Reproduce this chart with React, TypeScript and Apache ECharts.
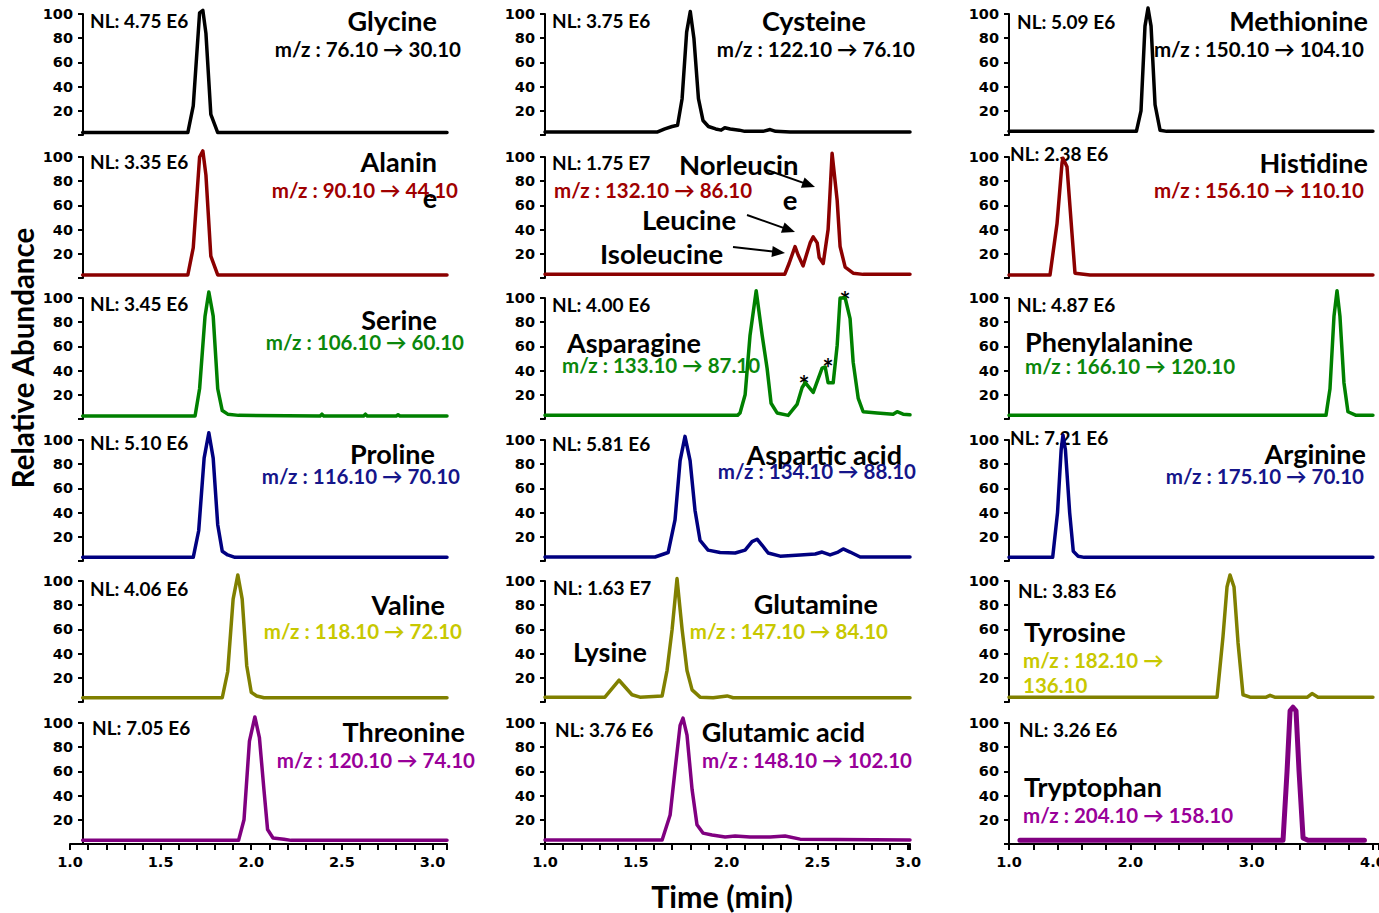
import React, { useEffect, useRef } from "react";
import * as echarts from "echarts";

type Pt = [number, number];

// ---------- Column 1 traces: [time (min), relative abundance (%)] ----------
const glycine: Pt[] = [[1.07, 2], [1.65, 2], [1.68, 24], [1.715, 101], [1.733, 103], [1.75, 84], [1.777, 17], [1.815, 2], [3.08, 2]];
const alanine: Pt[] = [[1.07, 2.5], [1.65, 2.5], [1.68, 25], [1.715, 100], [1.733, 105], [1.75, 85], [1.777, 18], [1.815, 2.5], [3.08, 2.5]];
const serine: Pt[] = [[1.07, 2.5], [1.69, 2.5], [1.715, 25], [1.745, 85], [1.766, 105], [1.79, 85], [1.815, 25], [1.84, 7], [1.87, 4], [1.93, 3], [2.38, 2.5], [2.39, 4], [2.4, 2.5], [2.62, 2.5], [2.63, 4], [2.64, 2.5], [2.8, 2.5], [2.81, 3.5], [2.82, 2.5], [3.08, 2.5]];
const proline: Pt[] = [[1.07, 3], [1.68, 3], [1.71, 25], [1.74, 85], [1.766, 106], [1.79, 85], [1.815, 30], [1.84, 8], [1.87, 5], [1.91, 3], [3.08, 3]];
const valine: Pt[] = [[1.07, 3.5], [1.84, 3.5], [1.87, 25], [1.9, 85], [1.926, 105], [1.95, 85], [1.975, 30], [2.0, 8], [2.03, 5], [2.07, 3.5], [3.08, 3.5]];
const threonine: Pt[] = [[1.07, 3], [1.93, 3], [1.96, 20], [1.99, 85], [2.02, 105], [2.045, 88], [2.07, 45], [2.09, 12], [2.12, 5], [2.18, 4], [2.22, 3], [3.08, 3]];

// ---------- Column 2 traces ----------
const cysteine: Pt[] = [[1.0, 2.5], [1.62, 2.5], [1.66, 5], [1.7, 7], [1.73, 8], [1.755, 30], [1.78, 85], [1.8, 102], [1.82, 80], [1.845, 30], [1.87, 12], [1.9, 7], [1.94, 5], [1.97, 4], [1.99, 6], [2.02, 5], [2.07, 4], [2.1, 3], [2.2, 3], [2.24, 4.5], [2.27, 3], [2.35, 2.5], [3.01, 2.5]];
const leucines: Pt[] = [[1.0, 3], [2.32, 3], [2.344, 12], [2.377, 26], [2.394, 19], [2.421, 10], [2.46, 29], [2.477, 34], [2.499, 29], [2.51, 17], [2.532, 12], [2.559, 40], [2.581, 103], [2.609, 64], [2.625, 26], [2.653, 9], [2.697, 4], [2.752, 3], [3.01, 3]];
const asparagine: Pt[] = [[1.0, 3], [2.06, 3], [2.074, 5], [2.102, 20], [2.129, 69], [2.163, 106], [2.196, 69], [2.223, 42], [2.245, 13], [2.278, 5], [2.339, 3], [2.388, 12], [2.416, 26], [2.433, 30], [2.477, 22], [2.526, 42], [2.543, 43], [2.559, 30], [2.587, 30], [2.609, 61], [2.625, 100], [2.653, 100], [2.68, 83], [2.697, 47], [2.725, 17], [2.752, 6], [2.829, 5], [2.917, 4], [2.939, 6], [2.972, 4], [3.01, 3.5]];
const asparticAcid: Pt[] = [[1.0, 3.3], [1.606, 3.3], [1.678, 7], [1.716, 34], [1.744, 83], [1.771, 103], [1.799, 83], [1.826, 42], [1.854, 17], [1.898, 9], [1.964, 7], [2.047, 6.6], [2.102, 9], [2.14, 16], [2.168, 18], [2.196, 13], [2.229, 6.6], [2.295, 4], [2.405, 5], [2.488, 5.8], [2.526, 7.4], [2.57, 5], [2.614, 7.4], [2.642, 10], [2.68, 7.4], [2.736, 3.3], [3.01, 3.3]];
const lysGlutamine: Pt[] = [[1.0, 4], [1.33, 4], [1.408, 18], [1.479, 6], [1.523, 4], [1.645, 5], [1.672, 26], [1.7, 60], [1.727, 102], [1.755, 60], [1.782, 26], [1.81, 10], [1.854, 4], [1.926, 3.5], [2.003, 5], [2.036, 3.5], [3.01, 3.5]];
const glutamicAcid: Pt[] = [[1.0, 3.3], [1.645, 3.3], [1.689, 24], [1.716, 61], [1.744, 98], [1.76, 104], [1.782, 90], [1.81, 45], [1.837, 16], [1.87, 9], [1.92, 7.4], [1.992, 5.8], [2.047, 6.6], [2.129, 5.8], [2.24, 5.8], [2.322, 6.6], [2.405, 4], [3.01, 3.3]];

// ---------- Column 3 traces ----------
const methionine: Pt[] = [[1.0, 3], [2.05, 3], [2.088, 20], [2.121, 90], [2.146, 105], [2.171, 90], [2.204, 25], [2.245, 4], [2.3, 3], [4.0, 3]];
const histidine: Pt[] = [[1.0, 2.5], [1.338, 2.5], [1.396, 45], [1.437, 95], [1.445, 99], [1.478, 92], [1.519, 37], [1.544, 4], [1.668, 2.5], [4.0, 2.5]];
const phenylalanine: Pt[] = [[1.0, 3], [3.613, 3], [3.646, 25], [3.679, 85], [3.704, 106], [3.728, 85], [3.761, 30], [3.794, 6], [3.861, 3], [4.0, 3]];
const arginine: Pt[] = [[1.0, 3], [1.36, 3], [1.4, 40], [1.43, 92], [1.445, 104], [1.465, 92], [1.5, 40], [1.53, 8], [1.57, 4], [1.62, 3], [4.0, 3]];
const tyrosine: Pt[] = [[1.0, 4], [2.715, 4], [2.764, 54], [2.797, 95], [2.822, 105], [2.855, 95], [2.888, 49], [2.929, 6], [2.987, 4], [3.12, 4], [3.152, 5.5], [3.19, 4], [3.46, 4], [3.498, 7], [3.547, 4], [4.0, 4]];
const tryptophan: Pt[] = [[1.09, 3], [3.259, 3], [3.292, 60], [3.317, 110], [3.341, 113], [3.366, 110], [3.391, 60], [3.424, 5], [3.465, 3], [3.93, 3]];

// ---------- Axis ticks ----------
const yTicks = [0, 20, 40, 60, 80, 100];
const xLabelFmt = (v: number) => v.toFixed(1);

// ---------- Colours ----------
const C = {
  black: "#000000",
  red: "#8b0000",
  green: "#008000",
  navy: "#000080",
  olive: "#808000",
  purple: "#800080",
};
const T = {
  black: "#000000",
  red: "#a00000",
  green: "#0b870b",
  navy: "#15158a",
  yellow: "#c8c800",
  purple: "#990099",
};

// ---------- Layout ----------
const COLS = [
  { left: 70, right: 447, min: 1.0, max: 3.08, yOffset: -13, interval: 0.5 },
  { left: 545, right: 910, min: 1.0, max: 3.01, yOffset: 0, interval: 0.5 },
  { left: 1009, right: 1379, min: 1.0, max: 4.05, yOffset: 0, interval: 1.0 },
];
const ROW_TOPS = [14, 157, 298, 440, 581, 723];
const ROW_H = 121;

const PANELS: { data: Pt[]; color: string; col: number; row: number; width?: number }[] = [
  { data: glycine, color: C.black, col: 0, row: 0 },
  { data: alanine, color: C.red, col: 0, row: 1 },
  { data: serine, color: C.green, col: 0, row: 2 },
  { data: proline, color: C.navy, col: 0, row: 3 },
  { data: valine, color: C.olive, col: 0, row: 4 },
  { data: threonine, color: C.purple, col: 0, row: 5 },
  { data: cysteine, color: C.black, col: 1, row: 0 },
  { data: leucines, color: C.red, col: 1, row: 1 },
  { data: asparagine, color: C.green, col: 1, row: 2 },
  { data: asparticAcid, color: C.navy, col: 1, row: 3 },
  { data: lysGlutamine, color: C.olive, col: 1, row: 4 },
  { data: glutamicAcid, color: C.purple, col: 1, row: 5 },
  { data: methionine, color: C.black, col: 2, row: 0 },
  { data: histidine, color: C.red, col: 2, row: 1 },
  { data: phenylalanine, color: C.green, col: 2, row: 2 },
  { data: arginine, color: C.navy, col: 2, row: 3 },
  { data: tyrosine, color: C.olive, col: 2, row: 4 },
  { data: tryptophan, color: C.purple, col: 2, row: 5, width: 5 },
];

// [text, x, y, size, colour, align]
type Lbl = [string, number, number, number, string, "left" | "right" | "center"];
const NL = 19, NM = 27, MZ = 20.5, BIG = 27.5;
const LABELS: Lbl[] = [
  ["NL: 4.75 E6", 90, 20, NL, T.black, "left"],
  ["Glycine", 437, 20, NM, T.black, "right"],
  ["m/z : 76.10 → 30.10", 461, 49, MZ, T.black, "right"],
  ["NL: 3.75 E6", 552, 20, NL, T.black, "left"],
  ["Cysteine", 866, 20, NM, T.black, "right"],
  ["m/z : 122.10 → 76.10", 915, 49, MZ, T.black, "right"],
  ["NL: 5.09 E6", 1017, 21, NL, T.black, "left"],
  ["Methionine", 1368, 20, NM, T.black, "right"],
  ["m/z : 150.10 → 104.10", 1364, 49, MZ, T.black, "right"],

  ["NL: 3.35 E6", 90, 161, NL, T.black, "left"],
  ["Alanin", 437, 161, NM, T.black, "right"],
  ["m/z : 90.10 → 44.10", 458, 190, MZ, T.red, "right"],
  ["e", 430, 197, NM, T.black, "center"],
  ["NL: 1.75 E7", 552, 162, NL, T.black, "left"],
  ["m/z : 132.10 → 86.10", 554, 190, MZ, T.red, "left"],
  ["Norleucin", 679, 164, BIG, T.black, "left"],
  ["e", 790, 199, BIG, T.black, "center"],
  ["Leucine", 642, 219, BIG, T.black, "left"],
  ["Isoleucine", 600, 253, BIG, T.black, "left"],
  ["NL: 2.38 E6", 1010, 153, NL, T.black, "left"],
  ["Histidine", 1368, 162, NM, T.black, "right"],
  ["m/z : 156.10 → 110.10", 1364, 190, MZ, T.red, "right"],

  ["NL: 3.45 E6", 90, 303, NL, T.black, "left"],
  ["Serine", 437, 319, NM, T.black, "right"],
  ["m/z : 106.10 → 60.10", 464, 342, MZ, T.green, "right"],
  ["NL: 4.00 E6", 552, 304, NL, T.black, "left"],
  ["Asparagine", 567, 342, NM, T.black, "left"],
  ["m/z : 133.10 → 87.10", 562, 365, MZ, T.green, "left"],
  ["*", 804, 385, 26, T.black, "center"],
  ["*", 828, 368, 26, T.black, "center"],
  ["*", 845, 301, 26, T.black, "center"],
  ["NL: 4.87 E6", 1017, 304, NL, T.black, "left"],
  ["Phenylalanine", 1025, 341, NM, T.black, "left"],
  ["m/z : 166.10 → 120.10", 1025, 366, MZ, T.green, "left"],

  ["NL: 5.10 E6", 90, 442, NL, T.black, "left"],
  ["Proline", 435, 453, NM, T.black, "right"],
  ["m/z : 116.10 → 70.10", 460, 476, MZ, T.navy, "right"],
  ["NL: 5.81 E6", 552, 443, NL, T.black, "left"],
  ["Aspartic acid", 902, 454, NM, T.black, "right"],
  ["m/z : 134.10 → 88.10", 916, 471, MZ, T.navy, "right"],
  ["NL: 7.21 E6", 1010, 437, NL, T.black, "left"],
  ["Arginine", 1366, 453, NM, T.black, "right"],
  ["m/z : 175.10 → 70.10", 1364, 476, MZ, T.navy, "right"],

  ["NL: 4.06 E6", 90, 588, NL, T.black, "left"],
  ["Valine", 445, 604, NM, T.black, "right"],
  ["m/z : 118.10 → 72.10", 462, 631, MZ, T.yellow, "right"],
  ["NL: 1.63 E7", 553, 587, NL, T.black, "left"],
  ["Glutamine", 878, 603, NM, T.black, "right"],
  ["m/z : 147.10 → 84.10", 888, 631, MZ, T.yellow, "right"],
  ["Lysine", 573, 651, NM, T.black, "left"],
  ["NL: 3.83 E6", 1018, 590, NL, T.black, "left"],
  ["Tyrosine", 1024, 631, NM, T.black, "left"],
  ["m/z : 182.10 →", 1023, 660, MZ, T.yellow, "left"],
  ["136.10", 1023, 685, MZ, T.yellow, "left"],

  ["NL: 7.05 E6", 92, 727, NL, T.black, "left"],
  ["Threonine", 465, 731, NM, T.black, "right"],
  ["m/z : 120.10 → 74.10", 475, 760, MZ, T.purple, "right"],
  ["NL: 3.76 E6", 555, 729, NL, T.black, "left"],
  ["Glutamic acid", 865, 731, NM, T.black, "right"],
  ["m/z : 148.10 → 102.10", 912, 760, MZ, T.purple, "right"],
  ["NL: 3.26 E6", 1019, 729, NL, T.black, "left"],
  ["Tryptophan", 1024, 786, NM, T.black, "left"],
  ["m/z : 204.10 → 158.10", 1023, 815, MZ, T.purple, "left"],
];

// annotation arrows: [x1, y1, x2, y2]
const ARROWS: [number, number, number, number][] = [
  [767, 170, 815, 187],
  [747, 215, 795, 232],
  [733, 247, 785, 253],
];

function arrowHead(x1: number, y1: number, x2: number, y2: number) {
  const len = 13, half = 5.5;
  const dx = x2 - x1, dy = y2 - y1;
  const d = Math.hypot(dx, dy);
  const ux = dx / d, uy = dy / d;
  const bx = x2 - ux * len, by = y2 - uy * len;
  return [[x2, y2], [bx - uy * half, by + ux * half], [bx + uy * half, by - ux * half]];
}

export default function App() {
  const ref = useRef<HTMLDivElement>(null);
  useEffect(() => {
    if (!ref.current) return;
    const chart = echarts.init(ref.current, null, { renderer: "svg" });
    const grid: any[] = [], xAxis: any[] = [], yAxis: any[] = [], series: any[] = [];
    PANELS.forEach((p, i) => {
      const c = COLS[p.col];
      const top = ROW_TOPS[p.row];
      const bottomRow = p.row === 5;
      grid.push({ left: c.left, width: c.right - c.left, top, height: ROW_H, outerBoundsMode: "none", containLabel: false });
      xAxis.push({
        gridIndex: i,
        type: "value",
        min: c.min,
        max: c.max,
        interval: c.interval,
        show: bottomRow,
        axisLine: { show: true, onZero: false, lineStyle: { color: "#000", width: 2 } },
        axisTick: { show: true, length: 6, lineStyle: { color: "#000", width: 2 } },
        minorTick: { show: true, splitNumber: 5, length: 6, lineStyle: { color: "#000", width: 2 } },
        splitLine: { show: false },
        minorSplitLine: { show: false },
        axisLabel: {
          show: true,
          margin: 10,
          formatter: xLabelFmt,
          color: "#000",
          fontFamily: "DejaVu Sans",
          fontWeight: "bold",
          fontSize: 14.5,
          showMaxLabel: false,
          hideOverlap: false,
        },
      });
      yAxis.push({
        gridIndex: i,
        type: "value",
        min: yTicks[0],
        max: yTicks[yTicks.length - 1],
        interval: 20,
        offset: c.yOffset,
        axisLine: { show: true, onZero: false, lineStyle: { color: "#000", width: 2 } },
        axisTick: { show: true, length: 5, lineStyle: { color: "#000", width: 2 } },
        splitLine: { show: false },
        axisLabel: {
          show: true,
          margin: 10,
          formatter: (v: number) => (v === 0 ? "" : String(v)),
          color: "#000",
          fontFamily: "DejaVu Sans",
          fontWeight: "bold",
          fontSize: 14.5,
        },
      });
      series.push({
        type: "line",
        xAxisIndex: i,
        yAxisIndex: i,
        data: p.data,
        symbol: "none",
        showSymbol: false,
        clip: false,
        silent: true,
        lineStyle: { color: p.color, width: p.width ?? 3.5, join: "round", cap: "round" },
      });
    });

    const graphic: any[] = [];
    LABELS.forEach(([text, x, y, size, color, align]) => {
      graphic.push({
        type: "text",
        x,
        y,
        silent: true,
        style: {
          text,
          font: `bold ${size}px Lato, "DejaVu Sans", sans-serif`,
          fill: color,
          align,
          textAlign: align,
          verticalAlign: "middle",
          textVerticalAlign: "middle",
        },
      });
    });
    ARROWS.forEach(([x1, y1, x2, y2]) => {
      const head = arrowHead(x1, y1, x2, y2);
      const d = Math.hypot(x2 - x1, y2 - y1);
      const ux = (x2 - x1) / d;
      const uy = (y2 - y1) / d;
      graphic.push({
        type: "line",
        silent: true,
        shape: { x1, y1, x2: x2 - ux * 10, y2: y2 - uy * 10 },
        style: { stroke: "#000", lineWidth: 2 },
      });
      graphic.push({ type: "polygon", silent: true, shape: { points: head }, style: { fill: "#000" } });
    });
    graphic.push({
      type: "text",
      x: 22,
      y: 358,
      rotation: Math.PI / 2,
      silent: true,
      style: {
        text: "Relative Abundance",
        font: "bold 29.5px Lato, sans-serif",
        fill: "#000",
        align: "center",
        textAlign: "center",
        verticalAlign: "middle",
        textVerticalAlign: "middle",
      },
    });
    graphic.push({
      type: "text",
      x: 722,
      y: 896,
      silent: true,
      style: {
        text: "Time (min)",
        font: "bold 30.5px Lato, sans-serif",
        fill: "#000",
        align: "center",
        textAlign: "center",
        verticalAlign: "middle",
        textVerticalAlign: "middle",
      },
    });

    chart.setOption({
      animation: false,
      backgroundColor: "#ffffff",
      grid,
      xAxis,
      yAxis,
      series,
      graphic,
    });
    return () => chart.dispose();
  }, []);
  return (
    <div
      ref={ref}
      style={{ position: "absolute", left: 0, top: 0, width: 1379, height: 913, background: "#fff" }}
    />
  );
}
